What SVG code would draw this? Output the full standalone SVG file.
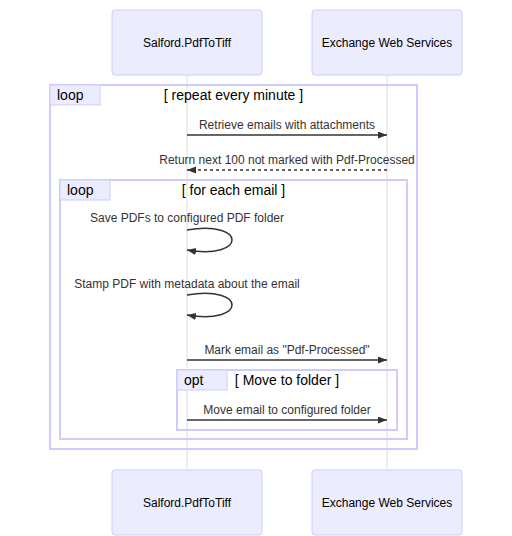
<svg xmlns="http://www.w3.org/2000/svg" width="512" height="536" viewBox="0 0 512 536">
<style>
.actor{fill:#ECECFF;stroke:#CCCCFF;stroke-width:1}
.actor-text{font-family:"Liberation Sans",Arial,sans-serif;font-size:12px;fill:#000;text-anchor:middle;dominant-baseline:central}
.lifeline{stroke:#dddddd;stroke-width:1}
.loop-line{fill:none;stroke:#CCCCFF;stroke-width:2}
.label-box{fill:#ECECFF;stroke:#CCCCFF;stroke-width:1}
.label-text{font-family:"Liberation Sans",Arial,sans-serif;font-size:14px;fill:#000}
.loop-text{font-family:"Liberation Sans",Arial,sans-serif;font-size:14px;fill:#000;text-anchor:middle}
.msg{stroke:#333;stroke-width:1.5;fill:none}
.dashed{stroke-dasharray:3,3}
.msg-text{font-family:"Liberation Sans",Arial,sans-serif;font-size:12px;fill:#333;text-anchor:middle}
</style>
<defs>
<marker id="arrow" markerUnits="userSpaceOnUse" markerWidth="10" markerHeight="8" refX="9" refY="3.5" orient="auto">
<path d="M0,0 L9,3.5 L0,7 z" fill="#333"/>
</marker>
</defs>
<g id="lifelines">
<line class="lifeline" x1="187" y1="75" x2="187" y2="470"/>
<line class="lifeline" x1="387" y1="75" x2="387" y2="470"/>
</g>
<g id="actor-salford-top">
<rect class="actor" x="112" y="10" width="150" height="65" rx="3"/>
<text class="actor-text" x="187" y="43">Salford.PdfToTiff</text>
</g>
<g id="actor-ews-top">
<rect class="actor" x="312" y="10" width="150" height="65" rx="3"/>
<text class="actor-text" x="387" y="43">Exchange Web Services</text>
</g>
<g id="actor-salford-bottom">
<rect class="actor" x="112" y="470" width="150" height="65" rx="3"/>
<text class="actor-text" x="187" y="503">Salford.PdfToTiff</text>
</g>
<g id="actor-ews-bottom">
<rect class="actor" x="312" y="470" width="150" height="65" rx="3"/>
<text class="actor-text" x="387" y="503">Exchange Web Services</text>
</g>
<g id="loop-outer">
<rect class="loop-line" x="50" y="85" width="367" height="364"/>
<rect class="label-box" x="50" y="85" width="50" height="20"/>
<text class="label-text" x="57" y="100">loop</text>
<text class="loop-text" x="233.5" y="100">[ repeat every minute ]</text>
</g>
<g id="loop-inner">
<rect class="loop-line" x="60" y="180" width="347" height="259"/>
<rect class="label-box" x="60" y="180" width="50" height="20"/>
<text class="label-text" x="67" y="195">loop</text>
<text class="loop-text" x="233.5" y="195">[ for each email ]</text>
</g>
<g id="opt">
<rect class="loop-line" x="177" y="370" width="220" height="60"/>
<rect class="label-box" x="177" y="370" width="50" height="20"/>
<text class="label-text" x="184" y="385">opt</text>
<text class="loop-text" x="287" y="385">[ Move to folder ]</text>
</g>
<g id="connectors">
<line class="msg" x1="187" y1="135" x2="387" y2="135" marker-end="url(#arrow)"/>
<text class="msg-text" x="287" y="128.5">Retrieve emails with attachments</text>
<line class="msg dashed" x1="387" y1="170" x2="187" y2="170" marker-end="url(#arrow)"/>
<text class="msg-text" x="287" y="163.5">Return next 100 not marked with Pdf-Processed</text>
<path class="msg" d="M187,230 C247,220 247,260 187,250" marker-end="url(#arrow)"/>
<text class="msg-text" x="187" y="222">Save PDFs to configured PDF folder</text>
<path class="msg" d="M187,295 C247,285 247,325 187,315" marker-end="url(#arrow)"/>
<text class="msg-text" x="187" y="287.5">Stamp PDF with metadata about the email</text>
<line class="msg" x1="187" y1="360" x2="387" y2="360" marker-end="url(#arrow)"/>
<text class="msg-text" x="287" y="353.5">Mark email as "Pdf-Processed"</text>
<line class="msg" x1="187" y1="420" x2="387" y2="420" marker-end="url(#arrow)"/>
<text class="msg-text" x="287" y="413.5">Move email to configured folder</text>
</g>
</svg>
